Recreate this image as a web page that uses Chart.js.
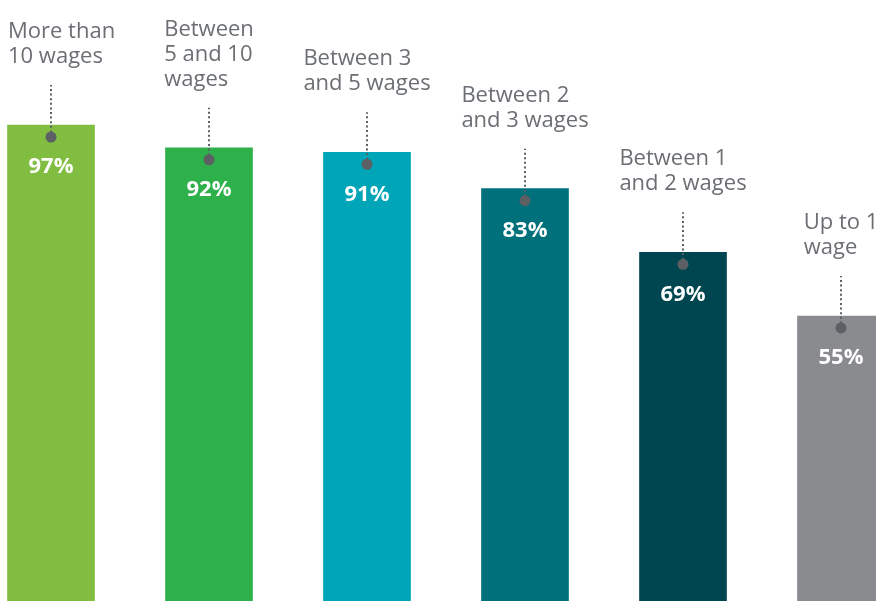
<!DOCTYPE html>
<html lang="en">
<head>
    <meta charset="UTF-8">
    <title>Share by income bracket</title>
    <script src="https://cdn.jsdelivr.net/npm/chart.js"></script>
    <style>
        html, body {
            margin: 0;
            padding: 0;
            background: #ffffff;
            overflow: hidden;
        }
        /* wrapper is shifted left so the first bar starts near the page edge */
        .chart-wrap {
            position: absolute;
            left: -28px;
            top: 0;
            width: 948px;
            height: 601px;
        }
    </style>
</head>
<body>
    <div class="chart-wrap">
        <canvas id="wageChart"></canvas>
    </div>

    <script>
        // Income brackets (multiline labels) and their shares
        const categories = [
            ['More than', '10 wages'],
            ['Between', '5 and 10', 'wages'],
            ['Between 3', 'and 5 wages'],
            ['Between 2', 'and 3 wages'],
            ['Between 1', 'and 2 wages'],
            ['Up to 1', 'wage']
        ];
        const shares = [97, 92, 91, 83, 69, 55];
        const barColors = ['#80bd41', '#2eb04b', '#00a5b7', '#00707a', '#004650', '#898b8f'];

        // bars run off the bottom of the page, so the value axis starts below zero
        const Y_MIN = -7.7;
        const Y_MAX = 124.5;
        const SHIFT = 28;

        const labelFont = '22px "Open Sans"';
        const valueFont = 'bold 22px "Open Sans"';

        // draws the pin (dot + dotted stem), bracket name and value for each bar
        const calloutPlugin = {
            id: 'callouts',
            afterDatasetsDraw(chart) {
                const ctx = chart.ctx;
                const meta = chart.getDatasetMeta(0);
                meta.data.forEach((bar, i) => {
                    const cx = bar.x;
                    const top = bar.y;
                    const dotY = top + 12;

                    ctx.save();
                    // dotted stem
                    ctx.strokeStyle = '#5c5f64';
                    ctx.lineWidth = 2;
                    ctx.setLineDash([2, 2.6]);
                    ctx.beginPath();
                    ctx.moveTo(cx, dotY);
                    ctx.lineTo(cx, dotY - 52);
                    ctx.stroke();
                    ctx.setLineDash([]);

                    // dot
                    ctx.fillStyle = '#5c5f64';
                    ctx.beginPath();
                    ctx.arc(cx, dotY, 5.5, 0, Math.PI * 2);
                    ctx.fill();

                    // value inside bar
                    ctx.fillStyle = '#ffffff';
                    ctx.font = valueFont;
                    ctx.textAlign = 'center';
                    ctx.textBaseline = 'middle';
                    ctx.fillText(shares[i] + '%', cx, top + 42);

                    // bracket name above the stem, lines left aligned, block centred
                    const lines = categories[i];
                    ctx.font = labelFont;
                    ctx.fillStyle = '#6b6e73';
                    ctx.textAlign = 'left';
                    ctx.textBaseline = 'alphabetic';
                    const w = Math.max(...lines.map(l => ctx.measureText(l).width));
                    const left = Math.max(SHIFT + 8, cx - w / 2);
                    const lastBase = top - 62;
                    lines.forEach((line, j) => {
                        ctx.fillText(line, left, lastBase - (lines.length - 1 - j) * 25);
                    });
                    ctx.restore();
                });
            }
        };

        const wageChart = new Chart(document.getElementById('wageChart'), {
            type: 'bar',
            data: {
                labels: categories,
                datasets: [{
                    data: shares,
                    backgroundColor: barColors,
                    borderWidth: 0,
                    barThickness: 87,
                    base: Y_MIN
                }]
            },
            options: {
                responsive: true,
                maintainAspectRatio: false,
                animation: false,
                layout: { padding: 0 },
                plugins: {
                    legend: { display: false },
                    tooltip: { enabled: false }
                },
                scales: {
                    x: { display: false, offset: true },
                    y: { display: false, min: Y_MIN, max: Y_MAX }
                }
            },
            plugins: [calloutPlugin]
        });
    </script>
</body>
</html>
